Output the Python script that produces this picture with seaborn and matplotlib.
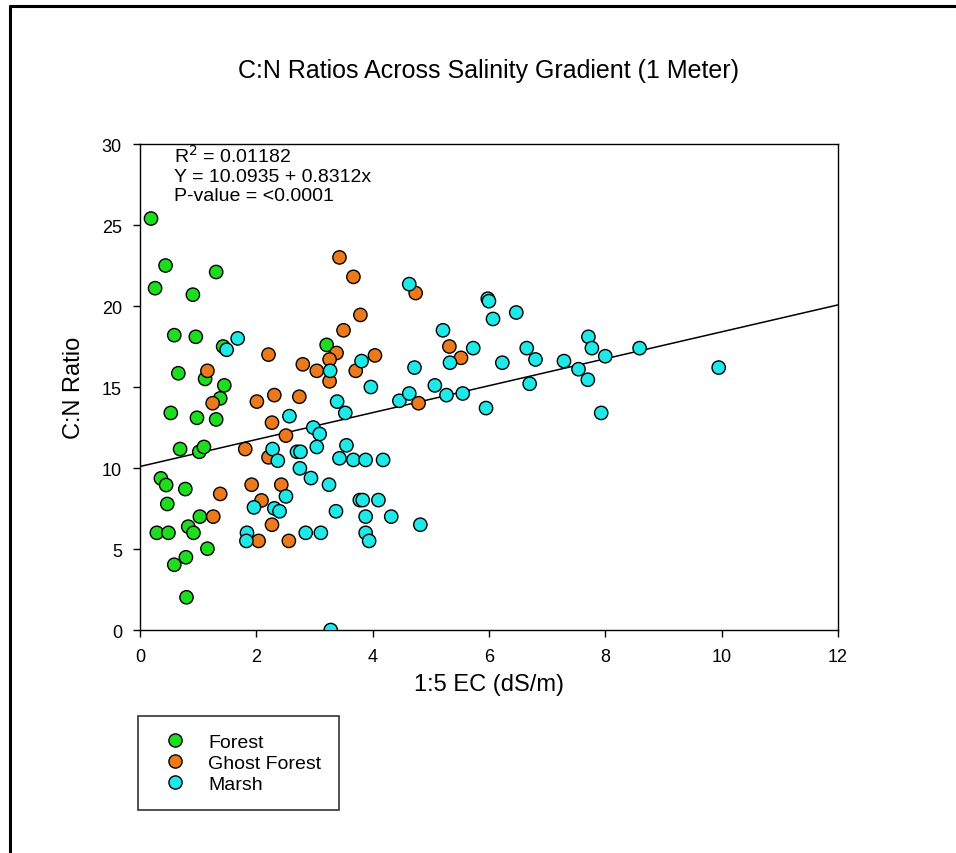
import matplotlib
matplotlib.use("Agg")
import matplotlib.pyplot as plt
import seaborn as sns
import pandas as pd
from matplotlib.lines import Line2D

# ==============================
# Data
# ==============================
forest_ec = [0.19, 0.44, 0.26, 0.91, 1.31, 0.59, 0.96, 1.43, 3.21, 0.66,
             1.12, 1.45, 0.53, 0.98, 1.31, 1.38, 0.69, 1.02, 1.10, 0.36,
             0.45, 0.78, 0.47, 1.03, 0.29, 0.49, 0.83, 0.92, 1.16, 0.59,
             0.79, 0.80]
forest_cn = [25.4, 22.5, 21.1, 20.7, 22.1, 18.2, 18.1, 17.5, 17.6, 15.85,
             15.5, 15.1, 13.4, 13.1, 13.0, 14.3, 11.17, 11.0, 11.3, 9.36,
             8.95, 8.7, 7.78, 7.0, 6.0, 6.0, 6.38, 6.0, 5.02, 4.03,
             4.49, 2.02]

ghost_ec = [1.25, 2.01, 2.31, 2.74, 3.26, 2.27, 2.51, 1.81, 2.21, 1.38,
            1.92, 2.43, 2.09, 1.26, 2.27, 2.04, 2.56, 4.79, 4.74, 5.32,
            5.52, 4.04, 3.43, 3.67, 3.79, 3.50, 2.21, 3.38, 3.26, 2.80,
            3.04, 3.71, 1.16]
ghost_cn = [14.0, 14.1, 14.5, 14.4, 15.35, 12.8, 12.0, 11.17, 10.66, 8.4,
            8.97, 8.97, 8.0, 7.0, 6.5, 5.5, 5.5, 14.0, 20.8, 17.5,
            16.8, 16.95, 23.0, 21.8, 19.45, 18.5, 17.0, 17.1, 16.7, 16.4,
            16.0, 16.0, 16.0]

marsh_ec = [2.57, 2.98, 3.09, 3.39, 3.53, 3.97, 2.28, 2.37, 2.70, 2.76,
            3.04, 2.75, 2.94, 3.25, 3.55, 3.43, 3.67, 3.88, 4.18, 2.51,
            1.96, 2.31, 2.40, 1.84, 1.83, 2.85, 3.11, 3.37, 3.78, 3.83,
            4.10, 3.88, 3.88, 3.94, 3.28, 4.32, 4.82, 4.46, 4.63, 5.07,
            5.27, 5.55, 5.95, 6.70, 7.70, 7.93, 4.63, 5.98, 6.00, 6.07,
            6.47, 5.21, 5.73, 5.33, 4.72, 6.23, 6.65, 6.80, 7.29, 7.54,
            7.71, 7.77, 8.00, 8.59, 9.95, 1.49, 1.68, 3.81, 3.27]
marsh_cn = [13.2, 12.5, 12.1, 14.1, 13.4, 15.0, 11.17, 10.45, 11.0, 11.0,
            11.3, 9.98, 9.38, 8.97, 11.4, 10.6, 10.5, 10.5, 10.5, 8.25,
            7.57, 7.51, 7.33, 6.0, 5.5, 6.0, 6.0, 7.33, 8.02, 8.02,
            8.02, 7.0, 6.0, 5.5, 0.0, 7.0, 6.5, 14.15, 14.6, 15.1,
            14.5, 14.6, 13.7, 15.2, 15.45, 13.4, 21.35, 20.45, 20.3, 19.2,
            19.6, 18.5, 17.4, 16.5, 16.2, 16.5, 17.4, 16.7, 16.6, 16.1,
            18.1, 17.4, 16.9, 17.4, 16.2, 17.3, 18.0, 16.6, 16.0]

sites = ["Forest", "Ghost Forest", "Marsh"]
site_colors = ["#1edc1e", "#ec7a1c", "#1ee8e8"]

# regression reported on the chart
intercept = 10.0935
slope = 0.8312
fit_x = [0, 12]
stats_text = "R$^2$ = 0.01182\nY = 10.0935 + 0.8312x\nP-value = <0.0001"

df = pd.concat([
    pd.DataFrame({"ec": forest_ec, "cn": forest_cn, "site": "Forest"}),
    pd.DataFrame({"ec": ghost_ec, "cn": ghost_cn, "site": "Ghost Forest"}),
    pd.DataFrame({"ec": marsh_ec, "cn": marsh_cn, "site": "Marsh"}),
], ignore_index=True)

fit_df = pd.DataFrame({"ec": fit_x, "cn": [intercept + slope * v for v in fit_x]})

# ==============================
# Plot
# ==============================
sns.set_style("ticks")
plt.rcParams["font.family"] = ["Liberation Sans", "DejaVu Sans"]
plt.rcParams["text.color"] = "black"
plt.rcParams["axes.labelcolor"] = "black"

fig = plt.figure(figsize=(9.56, 8.54), dpi=100)
ax = fig.add_axes([0.1464, 0.2611, 0.7301, 0.5691])

sns.lineplot(data=fit_df, x="ec", y="cn", color="black", linewidth=1.1,
             ax=ax, zorder=1)
sns.scatterplot(data=df, x="ec", y="cn", hue="site", hue_order=sites,
                palette=site_colors, s=92, edgecolor="black", linewidth=1.0,
                legend=False, ax=ax, zorder=3)

ax.set_xlim(0, 12)
ax.set_ylim(0, 30)
ax.set_xticks(range(0, 13, 2))
ax.set_yticks(range(0, 31, 5))
ax.tick_params(direction="out", length=5, width=1, labelsize=13,
               colors="black", pad=8)
for side in ["left", "right", "top", "bottom"]:
    ax.spines[side].set_visible(True)
    ax.spines[side].set_color("black")
    ax.spines[side].set_linewidth(1.0)

ax.set_xlabel("1:5 EC (dS/m)", fontsize=17, labelpad=6)
ax.set_ylabel("C:N Ratio", fontsize=17, labelpad=12)
ax.set_title("C:N Ratios Across Salinity Gradient (1 Meter)", fontsize=18,
             pad=48, color="black")

ax.text(0.049, 1.0, stats_text, transform=ax.transAxes, fontsize=14,
        va="top", ha="left", linespacing=1.15)

# legend below the plot
handles = [
    Line2D([], [], marker="o", linestyle="", markersize=9.5,
           markerfacecolor=c, markeredgecolor="black", label=s)
    for s, c in zip(sites, site_colors)
]
leg = fig.legend(handles=handles, loc="upper left",
                 bbox_to_anchor=(138 / 956, 1 - 717 / 854),
                 frameon=True, fancybox=False, fontsize=14,
                 handletextpad=0.7, borderpad=0.9, labelspacing=0.16,
                 borderaxespad=0, handlelength=2.0)
leg.get_frame().set_edgecolor("black")
leg.get_frame().set_linewidth(1.2)

# outer frame: left and top lines only
fig.add_artist(Line2D([10 / 956, 10 / 956], [0, 1 - 7 / 854],
                      color="black", linewidth=2.2, transform=fig.transFigure))
fig.add_artist(Line2D([10 / 956, 1], [1 - 7 / 854, 1 - 7 / 854],
                      color="black", linewidth=2.2, transform=fig.transFigure))

fig.savefig("out.png", dpi=100)
plt.close(fig)
